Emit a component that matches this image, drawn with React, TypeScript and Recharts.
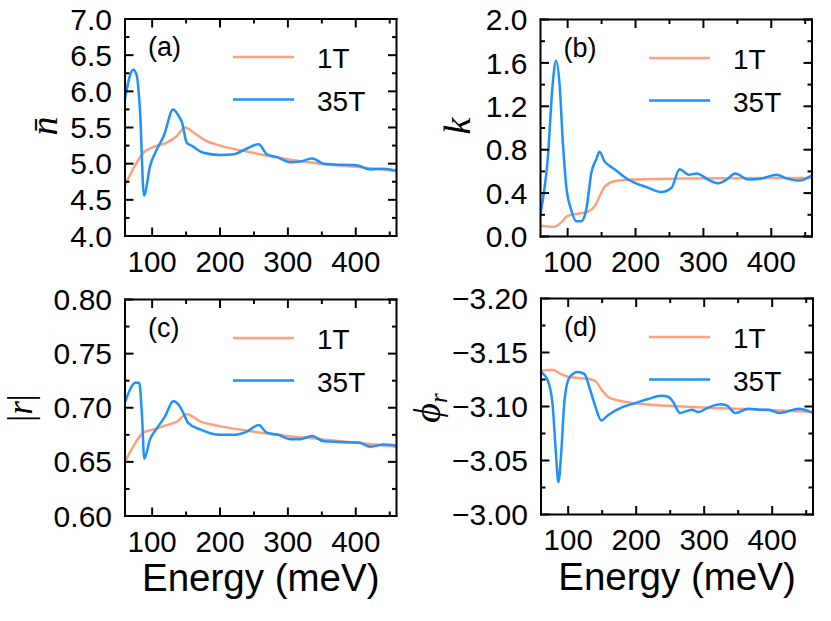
import React from 'react';
import { LineChart, Line, XAxis, YAxis, Legend } from 'recharts';

const W = 831;
const H = 621;
const ORANGE = '#FFA07A';
const BLUE = '#1E90FF';
const FONT = '"Liberation Sans", Arial, Helvetica, sans-serif';
const SERIF = '"Liberation Serif", "Times New Roman", serif';

type Pt = [number, number];

// ---- energy axis ----
const energyDomain: [number, number] = [60, 460];
const energyMajor = [100, 200, 300, 400];
const energyMinor = [150, 250, 350, 450];

// ---- y ticks ----
const nBarMajor = [4.0, 4.5, 5.0, 5.5, 6.0, 6.5, 7.0];
const nBarMinor = [4.25, 4.75, 5.25, 5.75, 6.25, 6.75];
const kMajor = [0.0, 0.4, 0.8, 1.2, 1.6, 2.0];
const kMinor = [0.2, 0.6, 1.0, 1.4, 1.8];
const rMajor = [0.6, 0.65, 0.7, 0.75, 0.8];
const rMinor = [0.625, 0.675, 0.725, 0.775];
const phiMajor = [-3.2, -3.15, -3.1, -3.05, -3.0];
const phiMinor = [-3.175, -3.125, -3.075, -3.025];

// ---- series: [energy (meV), value] ----
const nBar1T: Pt[] = [
  [60, 4.7], [72, 4.93], [87, 5.15], [99, 5.22], [121.5, 5.29], [136, 5.38], [148.6, 5.5],
  [161, 5.43], [180.5, 5.31], [200, 5.25], [249, 5.15], [299, 5.06], [348, 5.0], [397, 4.96], [460, 4.9],
];
const nBar35T: Pt[] = [
  [60, 5.9], [72, 6.3], [77, 6.23], [82, 5.75], [88, 4.56], [97, 4.97], [107, 5.2], [117, 5.38],
  [131, 5.75], [139, 5.66], [144, 5.57], [151, 5.29], [158, 5.25], [175.6, 5.15], [200, 5.12],
  [220, 5.13], [239.6, 5.21], [257, 5.27], [269, 5.13], [284, 5.09], [303.6, 5.02], [318, 5.03],
  [335.5, 5.07], [352.7, 5.0], [367.5, 4.99], [397, 4.98], [404, 4.97], [421.6, 4.92], [441, 4.93], [460, 4.9],
];
const k1T: Pt[] = [
  [60, 0.1], [81, 0.09], [90.5, 0.13], [100, 0.19], [115, 0.21], [130, 0.23], [140, 0.28],
  [147, 0.37], [154.6, 0.46], [169, 0.51], [199, 0.525], [268, 0.535], [460, 0.54],
];
const k35T: Pt[] = [
  [60, 0.21], [71, 0.74], [78, 1.41], [83, 1.62], [88, 1.41], [93, 0.86], [98, 0.46], [105, 0.25],
  [112.7, 0.14], [120, 0.14], [127.5, 0.25], [135, 0.59], [142, 0.71], [147, 0.78], [154.6, 0.69],
  [162, 0.65], [169, 0.62], [189, 0.525], [218.6, 0.45], [238, 0.41], [253, 0.45], [265, 0.62],
  [278, 0.57], [290, 0.58], [307, 0.525], [322, 0.49], [334, 0.525], [347, 0.58], [366, 0.525],
  [386, 0.535], [408, 0.57], [420.6, 0.54], [440, 0.515], [460, 0.565],
];
const r1T: Pt[] = [
  [60, 0.65], [72, 0.664], [87, 0.677], [102, 0.68], [121.5, 0.684], [136, 0.687], [151, 0.694],
  [170.7, 0.6875], [200, 0.683], [249, 0.678], [298.6, 0.674], [348, 0.671], [397, 0.668], [460, 0.664],
];
const r35T: Pt[] = [
  [60, 0.705], [70, 0.72], [75, 0.723], [81, 0.723], [84.6, 0.698], [88.5, 0.653], [97, 0.671],
  [107, 0.681], [119, 0.692], [131, 0.706], [141, 0.701], [146, 0.695], [153, 0.686], [170.7, 0.68],
  [200, 0.675], [220, 0.675], [239.6, 0.678], [257, 0.684], [269, 0.677], [286, 0.675], [303.6, 0.671],
  [318, 0.671], [335.5, 0.674], [352.7, 0.669], [397, 0.668], [404, 0.668], [421.6, 0.664], [441, 0.666], [460, 0.665],
];
const phi1T: Pt[] = [
  [60, -3.133], [77, -3.134], [89.6, -3.13], [104, -3.127], [124, -3.126], [139, -3.124],
  [148.7, -3.116], [158.5, -3.109], [178, -3.105], [198, -3.103], [247, -3.1006], [296, -3.099],
  [365, -3.0975], [460, -3.095],
];
const phi35T: Pt[] = [
  [60, -3.132], [70, -3.124], [77, -3.102], [82, -3.056], [85.6, -3.03], [89.6, -3.056], [94.5, -3.105],
  [102, -3.127], [114, -3.132], [124, -3.13], [131, -3.118], [139, -3.102], [148.7, -3.087],
  [158.5, -3.092], [178, -3.099], [198, -3.103], [217.6, -3.107], [237, -3.11], [247, -3.109],
  [254.6, -3.104], [264, -3.094], [281.7, -3.097], [291.5, -3.095], [306, -3.099], [323.5, -3.102],
  [333, -3.101], [345.7, -3.094], [365, -3.098], [385, -3.097], [395, -3.097], [410, -3.094],
  [419.6, -3.095], [439, -3.098], [460, -3.094],
];

const seriesNames = ['1T', '35T'];

const toRows = (pts: Pt[]) => pts.map(([e, v]) => ({ e, v }));
const isIn = (v: number, arr: number[]) => arr.some((m) => Math.abs(m - v) < 1e-9);
const sorted = (a: number[], b: number[]) => [...a, ...b].sort((p, q) => p - q);

type Cfg = {
  tag: string;
  l: number; r: number; t: number; b: number;
  yDomain: [number, number];
  yMajor: number[]; yMinor: number[];
  fmt: (v: number) => string;
  reversed: boolean;
  bottomRow: boolean;
  ylab: React.ReactNode;
  ylabX: number; ylabY: number; ylabSize: number;
  s1: Pt[]; s2: Pt[];
};

const AXIS = { stroke: '#000', strokeWidth: 2, strokeLinecap: 'square' as const };

const panels: Cfg[] = [
  {
    tag: '(a)', l: 125, r: 396.5, t: 19, b: 236, yDomain: [4, 7], yMajor: nBarMajor, yMinor: nBarMinor,
    fmt: (v) => v.toFixed(1), reversed: false, bottomRow: false,
    ylab: <tspan fontStyle="italic">{'n\u0304'}</tspan>, ylabX: 57, ylabY: 126, ylabSize: 38,
    s1: nBar1T, s2: nBar35T,
  },
  {
    tag: '(b)', l: 540.5, r: 812, t: 19.5, b: 236.5, yDomain: [0, 2], yMajor: kMajor, yMinor: kMinor,
    fmt: (v) => v.toFixed(1), reversed: false, bottomRow: false,
    ylab: <tspan fontStyle="italic">k</tspan>, ylabX: 470, ylabY: 126, ylabSize: 38,
    s1: k1T, s2: k35T,
  },
  {
    tag: '(c)', l: 125, r: 396.5, t: 299.5, b: 516, yDomain: [0.6, 0.8], yMajor: rMajor, yMinor: rMinor,
    fmt: (v) => v.toFixed(2), reversed: false, bottomRow: true,
    ylab: (
      <>
        <tspan>|</tspan>
        <tspan fontStyle="italic">r</tspan>
        <tspan>|</tspan>
      </>
    ),
    ylabX: 32, ylabY: 408, ylabSize: 35,
    s1: r1T, s2: r35T,
  },
  {
    tag: '(d)', l: 541, r: 813, t: 298.5, b: 514.5, yDomain: [-3.2, -3.0], yMajor: phiMajor, yMinor: phiMinor,
    fmt: (v) => v.toFixed(2).replace('-', '\u2212'), reversed: true, bottomRow: true,
    ylab: (
      <>
        <tspan fontStyle="italic">{'\u03D5'}</tspan>
        <tspan fontStyle="italic" fontSize={25} dy={7}>r</tspan>
      </>
    ),
    ylabX: 440, ylabY: 408, ylabSize: 38,
    s1: phi1T, s2: phi35T,
  },
];

const XTick = (props: any) => {
  const { x, y, payload, side, labels } = props;
  const major = isIn(payload.value, energyMajor);
  const len = major ? 8.5 : 4.5;
  const dir = side === 'bottom' ? -1 : 1;
  return (
    <g>
      <line x1={x} x2={x} y1={y} y2={y + dir * len} stroke="#000" strokeWidth={2} />
      {labels && major && (
        <text x={x} y={y + 35.5} textAnchor="middle" fontSize={29.5} fontFamily={FONT} fill="#000">
          {payload.value}
        </text>
      )}
    </g>
  );
};

const YTick = (props: any) => {
  const { x, y, payload, side, cfg } = props;
  const major = isIn(payload.value, cfg.yMajor);
  const len = major ? 8.5 : 4.5;
  const dir = side === 'left' ? 1 : -1;
  return (
    <g>
      <line x1={x} x2={x + dir * len} y1={y} y2={y} stroke="#000" strokeWidth={2} />
      {side === 'left' && major && (
        <text x={x - 13} y={y + 10.6} textAnchor="end" fontSize={30} fontFamily={FONT} fill="#000">
          {cfg.fmt(payload.value)}
        </text>
      )}
    </g>
  );
};

const LegendBox = (props: any) => {
  const items = props.payload || [];
  return (
    <svg width={170} height={95} style={{ display: 'block', overflow: 'visible' }}>
      {items.map((it: any, i: number) => (
        <g key={i}>
          <line x1={8} x2={69} y1={23 + 42.5 * i} y2={23 + 42.5 * i} stroke={it.color} strokeWidth={2.5} />
          <text x={92} y={23 + 42.5 * i + 11} fontSize={28} fontFamily={FONT} fill="#000">
            {it.value}
          </text>
        </g>
      ))}
    </svg>
  );
};

function Panel({ cfg }: { cfg: Cfg }) {
  const { l, r, t, b } = cfg;
  // axes occupy 1px bands just outside the plot area
  const margin = { left: l - 1, right: W - r - 1, top: t - 1, bottom: H - b - 1 };
  const yTicks = sorted(cfg.yMajor, cfg.yMinor);
  const xTicks = sorted(energyMajor, energyMinor);
  return (
    <div style={{ position: 'absolute', left: 0, top: 0, width: W, height: H }}>
      <LineChart width={W} height={H} margin={margin}>
        <XAxis
          type="number" dataKey="e" domain={energyDomain} allowDataOverflow orientation="bottom"
          height={1} ticks={xTicks} interval={0} tickSize={0} tickMargin={0} tickLine={false} axisLine={AXIS}
          tick={(p: any) => <XTick {...p} side="bottom" labels />}
          label={
            cfg.bottomRow
              ? () => (
                  <text x={(l + r) / 2} y={b + 75} textAnchor="middle" fontSize={38.5} fontFamily={FONT} fill="#000">
                    Energy (meV)
                  </text>
                )
              : undefined
          }
        />
        <XAxis
          xAxisId="top" type="number" dataKey="e" domain={energyDomain} allowDataOverflow orientation="top"
          height={1} ticks={xTicks} interval={0} tickSize={0} tickMargin={0} tickLine={false} axisLine={AXIS}
          tick={(p: any) => <XTick {...p} side="top" labels={false} />}
        />
        <YAxis
          type="number" domain={cfg.yDomain} allowDataOverflow reversed={cfg.reversed} orientation="left"
          width={1} ticks={yTicks} interval={0} tickSize={0} tickMargin={0} tickLine={false} axisLine={AXIS}
          tick={(p: any) => <YTick {...p} side="left" cfg={cfg} />}
          label={() => (
            <g>
              <text
                x={cfg.ylabX} y={cfg.ylabY} transform={`rotate(-90 ${cfg.ylabX} ${cfg.ylabY})`}
                textAnchor="middle" fontSize={cfg.ylabSize} fontFamily={SERIF} fill="#000"
              >
                {cfg.ylab}
              </text>
              <text x={l + 23} y={t + 37} fontSize={27} fontFamily={FONT} fill="#000">
                {cfg.tag}
              </text>
            </g>
          )}
        />
        <YAxis
          yAxisId="right" type="number" domain={cfg.yDomain} allowDataOverflow reversed={cfg.reversed}
          orientation="right" width={1} ticks={yTicks} interval={0} tickSize={0} tickMargin={0}
          tickLine={false} axisLine={AXIS}
          tick={(p: any) => <YTick {...p} side="right" cfg={cfg} />}
        />
        <Legend
          layout="horizontal" verticalAlign="middle" align="center" width={170} height={95}
          wrapperStyle={{ left: l + 100, top: t + 15, width: 170, height: 95 }}
          content={(p: any) => <LegendBox {...p} />}
        />
        <Line
          data={toRows(cfg.s1)} dataKey="v" name={seriesNames[0]} type="monotone" stroke={ORANGE}
          strokeWidth={2.5} dot={false} activeDot={false} isAnimationActive={false}
        />
        <Line
          data={toRows(cfg.s2)} dataKey="v" name={seriesNames[1]} type="monotone" stroke={BLUE}
          strokeWidth={2.5} dot={false} activeDot={false} isAnimationActive={false}
        />
      </LineChart>
    </div>
  );
}

export default function App() {
  return (
    <div style={{ position: 'absolute', left: 0, top: 0, width: W, height: H, background: '#fff' }}>
      {panels.map((cfg) => (
        <Panel key={cfg.tag} cfg={cfg} />
      ))}
    </div>
  );
}
